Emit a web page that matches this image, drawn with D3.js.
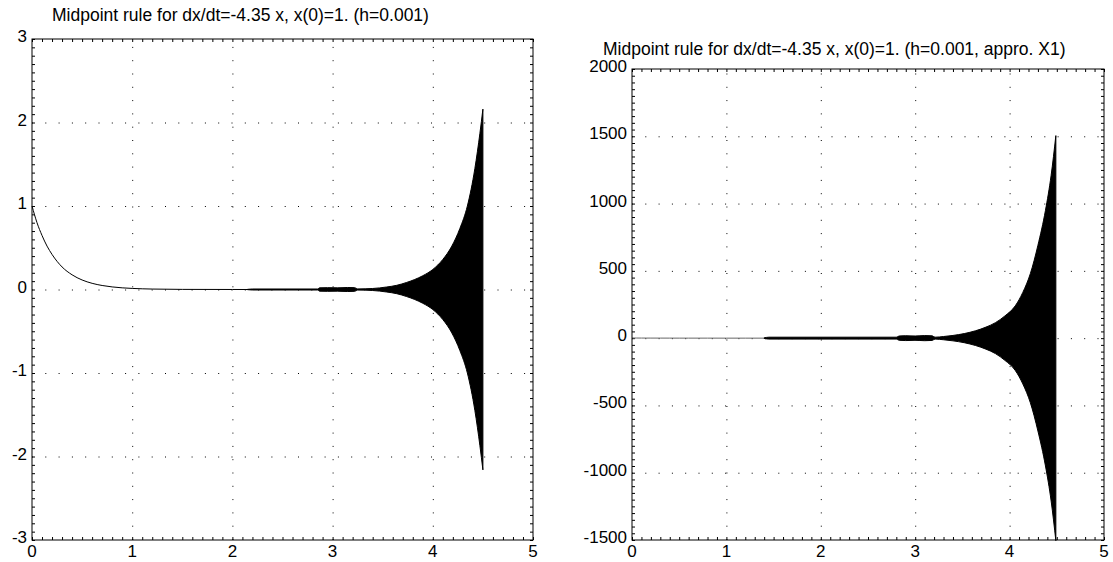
<!DOCTYPE html>
<html>
<head>
<meta charset="utf-8">
<script src="https://cdn.jsdelivr.net/npm/d3@7"></script>
<style>
  body { margin: 0; background: #fff; }
  text { font-family: "Liberation Sans", Arial, sans-serif; fill: #000; }
</style>
</head>
<body>
<svg id="chart" width="1113" height="562"></svg>
<script>
// ---- data ----
var leftTitle = 'Midpoint rule for dx/dt=-4.35 x, x(0)=1. (h=0.001)';
var rightTitle = 'Midpoint rule for dx/dt=-4.35 x, x(0)=1. (h=0.001, appro. X1)';

var xTicks = [0, 1, 2, 3, 4, 5];
var leftYTicks = [-3, -2, -1, 0, 1, 2, 3];
var rightYTicks = [-1500, -1000, -500, 0, 500, 1000, 1500, 2000];

// smooth decaying part x(t) (same start in both runs)
var decayT = [0, 0.05, 0.1, 0.15, 0.2, 0.3, 0.4, 0.5, 0.6, 0.7, 0.8, 1.0, 1.2, 1.5, 2.0, 2.2];
var decayX = [1, 0.80, 0.647, 0.52, 0.42, 0.27, 0.176, 0.114, 0.074, 0.048, 0.031, 0.013, 0.0054, 0.0015, 0.0002, 0];

// envelope of the oscillating part (+/- amplitude), left run
var leftBandT = [2.15, 2.2, 2.85, 2.87, 2.95, 3.05, 3.15, 3.22, 3.25, 3.4, 3.54, 3.64, 3.74, 3.82, 3.9, 4.0, 4.1, 4.19, 4.27, 4.345, 4.42, 4.47, 4.5];
var leftBandA = [0.002, 0.006, 0.006, 0.02, 0.022, 0.02, 0.024, 0.022, 0.007, 0.012, 0.03, 0.05, 0.085, 0.12, 0.165, 0.24, 0.36, 0.52, 0.73, 1.0, 1.45, 1.87, 2.16];

// envelope of the oscillating part, right run (approximated X1)
var rightBandT = [1.40, 1.45, 2.8, 2.83, 2.9, 3.0, 3.1, 3.18, 3.21, 3.3, 3.4, 3.52, 3.64, 3.75, 3.85, 3.95, 4.06, 4.14, 4.22, 4.30, 4.38, 4.44, 4.49];
var rightBandA = [2, 7, 7, 16, 18, 16, 19, 17, 7, 12, 20, 34, 55, 82, 115, 165, 240, 340, 480, 690, 950, 1210, 1505];

var svg = d3.select('#chart');

drawPanel({
    left: 32, right: 533, top: 39, bottom: 540,
    yDomain: [-3, 3], yTicks: leftYTicks, yMinor: 0.1,
    title: leftTitle, titleX: 52, titleY: 21,
    decayT: decayT, decayX: decayX, lineColor: '#000',
    bandT: leftBandT, bandA: leftBandA
});

drawPanel({
    left: 632, right: 1104, top: 69, bottom: 540,
    yDomain: [-1500, 2000], yTicks: rightYTicks, yMinor: 50,
    title: rightTitle, titleX: 603, titleY: 55,
    decayT: decayT, decayX: decayX, lineColor: '#666',
    bandT: rightBandT, bandA: rightBandA
});

function drawPanel(p) {
    var w = p.right - p.left, h = p.bottom - p.top;
    var x = d3.scaleLinear().domain([0, 5]).range([p.left, p.right]);
    var y = d3.scaleLinear().domain(p.yDomain).range([p.bottom, p.top]);

    var g = svg.append('g');

    // dotted grid
    var gx = g.append('g').attr('transform', `translate(0,${p.bottom})`)
        .call(d3.axisBottom(x).tickValues(xTicks.slice(1, -1)).tickSize(-h).tickFormat(''));
    var gy = g.append('g').attr('transform', `translate(${p.left},0)`)
        .call(d3.axisLeft(y).tickValues(p.yTicks.slice(1, -1)).tickSize(-w).tickFormat(''));
    [gx, gy].forEach(a => {
        a.select('.domain').remove();
        a.selectAll('line').attr('stroke', '#000').attr('stroke-width', 1).attr('stroke-dasharray', '1,12.3');
    });

    // minor ticks on the four sides, pointing inwards
    var xm = d3.range(0, 5.0001, 0.1);
    var ym = d3.range(p.yDomain[0], p.yDomain[1] + p.yMinor / 100, p.yMinor);
    var sides = [
        [d3.axisBottom(x).tickValues(xm), `translate(0,${p.bottom})`],
        [d3.axisTop(x).tickValues(xm), `translate(0,${p.top})`],
        [d3.axisLeft(y).tickValues(ym), `translate(${p.left},0)`],
        [d3.axisRight(y).tickValues(ym), `translate(${p.right},0)`]
    ];
    sides.forEach(s => {
        var a = g.append('g').attr('transform', s[1]).call(s[0].tickSize(-3).tickFormat(''));
        a.select('.domain').remove();
        a.selectAll('line').attr('stroke', '#000').attr('stroke-width', 1);
    });

    // the solution
    var line = d3.line().x((d, i) => x(p.decayT[i])).y(d => y(d)).curve(d3.curveMonotoneX);
    g.append('path').datum(p.decayX).attr('d', line)
        .attr('fill', 'none').attr('stroke', p.lineColor).attr('stroke-width', 1);

    var band = d3.area()
        .x((d, i) => x(p.bandT[i]))
        .y0(d => y(-d)).y1(d => y(d))
        .curve(d3.curveMonotoneX);
    g.append('path').datum(p.bandA).attr('d', band)
        .attr('fill', '#000').attr('stroke', '#000').attr('stroke-width', 1);

    // frame
    g.append('rect').attr('x', p.left).attr('y', p.top).attr('width', w).attr('height', h)
        .attr('fill', 'none').attr('stroke', '#000').attr('stroke-width', 1);

    // tick labels
    g.selectAll('.xl').data(xTicks).enter().append('text')
        .attr('x', d => x(d)).attr('y', p.bottom + 17)
        .attr('text-anchor', 'middle').style('font-size', '17px').text(d => d);
    g.selectAll('.yl').data(p.yTicks).enter().append('text')
        .attr('x', p.left - 5).attr('y', d => y(d) + 3)
        .attr('text-anchor', 'end').style('font-size', '17px').text(d => d);

    // title
    g.append('text').attr('x', p.titleX).attr('y', p.titleY)
        .style('font-size', '17.5px').text(p.title);
}
</script>
</body>
</html>
